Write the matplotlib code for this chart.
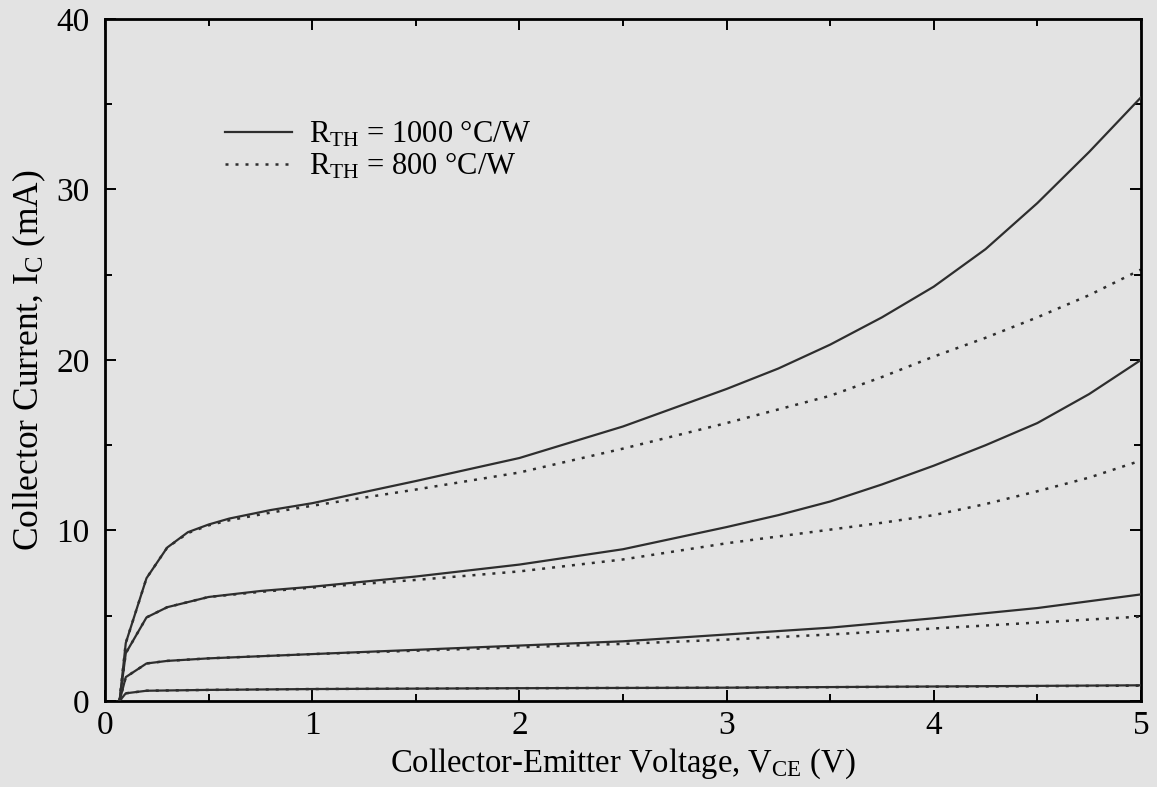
import matplotlib
matplotlib.use("Agg")
import matplotlib.pyplot as plt
from matplotlib.ticker import MultipleLocator

plt.rcParams['font.family'] = ['Liberation Serif', 'DejaVu Serif']
plt.rcParams['mathtext.fontset'] = 'custom'
plt.rcParams['mathtext.rm'] = 'Liberation Serif'
plt.rcParams['mathtext.it'] = 'Liberation Serif:italic'

# ---- data ----
v_a = [0.07, 0.1, 0.2, 0.3, 0.4, 0.5, 0.6, 0.8, 1.0, 1.5, 2.0, 2.5, 3.0, 3.25, 3.5, 3.75,
       4.0, 4.25, 4.5, 4.75, 5.0]
ic_a_1000 = [0.0, 3.4, 7.2, 9.0, 9.9, 10.35, 10.7, 11.2, 11.6, 12.9, 14.25, 16.1, 18.3, 19.5,
             20.9, 22.5, 24.3, 26.5, 29.2, 32.2, 35.4]
ic_a_800 = [0.0, 3.4, 7.2, 9.0, 9.85, 10.3, 10.6, 11.05, 11.45, 12.4, 13.4, 14.8, 16.3, 17.1,
            17.9, 19.0, 20.2, 21.3, 22.5, 23.8, 25.3]

v_b = [0.07, 0.1, 0.2, 0.3, 0.5, 0.75, 1.0, 1.5, 2.0, 2.5, 3.0, 3.25, 3.5, 3.75, 4.0, 4.25,
       4.5, 4.75, 5.0]
ic_b_1000 = [0.0, 2.8, 4.9, 5.5, 6.1, 6.45, 6.7, 7.3, 8.0, 8.9, 10.2, 10.9, 11.7, 12.7, 13.8,
             15.0, 16.3, 18.0, 20.0]
ic_b_800 = [0.0, 2.8, 4.9, 5.5, 6.1, 6.4, 6.65, 7.1, 7.6, 8.3, 9.25, 9.65, 10.05, 10.45, 10.9,
            11.55, 12.3, 13.1, 14.1]

v_c = [0.07, 0.1, 0.2, 0.3, 0.5, 1.0, 1.5, 2.0, 2.5, 3.0, 3.5, 4.0, 4.5, 5.0]
ic_c_1000 = [0.0, 1.4, 2.2, 2.35, 2.5, 2.75, 3.0, 3.25, 3.5, 3.9, 4.3, 4.85, 5.45, 6.25]
ic_c_800 = [0.0, 1.4, 2.2, 2.35, 2.5, 2.75, 2.95, 3.15, 3.35, 3.6, 3.9, 4.25, 4.6, 4.95]

v_d = [0.07, 0.1, 0.2, 0.5, 1.0, 2.0, 3.0, 4.0, 5.0]
ic_d_1000 = [0.0, 0.45, 0.6, 0.65, 0.7, 0.75, 0.78, 0.85, 0.92]
ic_d_800 = [0.0, 0.45, 0.6, 0.65, 0.7, 0.75, 0.78, 0.84, 0.9]

label_1000 = r'$\mathregular{R_{TH}}$ = 1000 °C/W'
label_800 = r'$\mathregular{R_{TH}}$ = 800 °C/W'
x_label = r'Collector-Emitter Voltage, $\mathregular{V_{CE}}$ (V)'
y_label = r'Collector Current, $\mathregular{I_{C}}$ (mA)'

bg = '#e3e3e3'
lc = '#2e2e2e'

fig = plt.figure(figsize=(11.57, 7.87), dpi=100, facecolor=bg)
ax = fig.add_axes([0.0908, 0.1093, 0.8953, 0.8666], facecolor=bg)

series = [(v_a, ic_a_1000, ic_a_800), (v_b, ic_b_1000, ic_b_800),
          (v_c, ic_c_1000, ic_c_800), (v_d, ic_d_1000, ic_d_800)]
for i, (v, s, d) in enumerate(series):
    ax.plot(v, d, color=lc, lw=1.8, linestyle=(0, (1.2, 2.8)),
            label=label_800 if i == 0 else None, zorder=2)
    ax.plot(v, s, color=lc, lw=1.6, linestyle='-', solid_joinstyle='round',
            label=label_1000 if i == 0 else None, zorder=3)

ax.set_xlim(0, 5)
ax.set_ylim(0, 40)
ax.xaxis.set_major_locator(MultipleLocator(1))
ax.xaxis.set_minor_locator(MultipleLocator(0.5))
ax.yaxis.set_major_locator(MultipleLocator(10))
ax.yaxis.set_minor_locator(MultipleLocator(5))
ax.tick_params(which='both', direction='in', top=True, right=True,
               width=1.4, color='black', labelsize=24)
ax.tick_params(which='major', length=8)
ax.tick_params(which='minor', length=5)
ax.tick_params(axis='x', which='major', pad=7)
ax.tick_params(axis='y', which='major', pad=11)
for sp in ax.spines.values():
    sp.set_linewidth(2.0)
    sp.set_color('black')

ax.set_xlabel(x_label, fontsize=23.5, labelpad=4)
ax.set_ylabel(y_label, fontsize=25.5, labelpad=6)

handles, labels = ax.get_legend_handles_labels()
order = [labels.index(label_1000), labels.index(label_800)]
leg = ax.legend([handles[k] for k in order], [labels[k] for k in order],
                loc='upper left', bbox_to_anchor=(0.104, 0.871), frameon=False,
                fontsize=22, handlelength=2.2, handletextpad=0.55,
                labelspacing=0.05, borderaxespad=0)

fig.savefig('out.png', dpi=100, facecolor=bg)
